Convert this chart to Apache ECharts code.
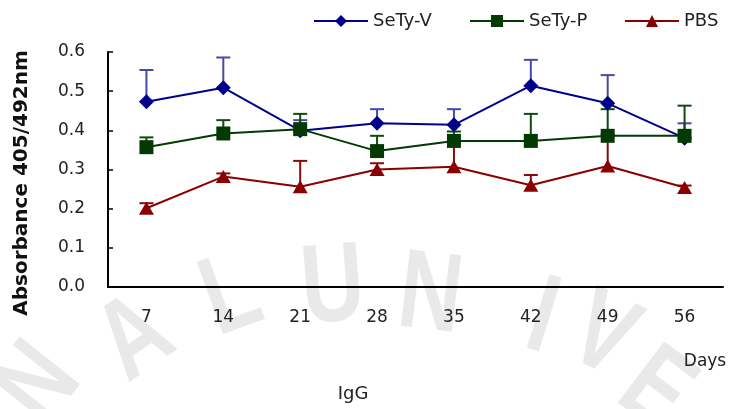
<!DOCTYPE html>
<html>
<head>
<meta charset="utf-8">
<script src="https://cdn.jsdelivr.net/npm/echarts@6/dist/echarts.min.js"></script>
<style>html,body{margin:0;padding:0;background:#fff;}#chart{width:734px;height:409px;}</style>
</head>
<body>
<div id="chart"></div>
<script>
var categories = ['7', '14', '21', '28', '35', '42', '49', '56'];
var seriesNames = ['SeTy-V', 'SeTy-P', 'PBS'];
var setyV = [0.473, 0.509, 0.399, 0.418, 0.414, 0.514, 0.469, 0.380];
var setyVErr = [0.081, 0.077, 0.027, 0.036, 0.040, 0.066, 0.072, 0.038];
var setyP = [0.357, 0.392, 0.403, 0.347, 0.373, 0.373, 0.386, 0.386];
var setyPErr = [0.025, 0.034, 0.039, 0.039, 0.024, 0.069, 0.068, 0.077];
var pbs = [0.201, 0.282, 0.256, 0.300, 0.307, 0.260, 0.309, 0.254];
var pbsErr = [0.013, 0.008, 0.066, 0.016, 0.068, 0.026, 0.081, 0.005];
var yTicks = [0, 0.1, 0.2, 0.3, 0.4, 0.5, 0.6];
var watermarkLetters = ['N', 'A', 'L', 'U', 'N', 'I', 'V', 'E'];

var FONT = 'DejaVu Sans';
var colors = ['#00008a', '#033a03', '#8a0000'];
var errColors = ['#4848a8', '#0f4a0f', '#8a0a0a'];

// watermark placement (background decoration): x, y, rotation
var wmPos = [[40, 385, 0.9], [136, 340, 0.6], [232, 298, 0.35], [333, 290, 0.08], [430, 298, -0.12], [542, 320, -0.3], [602, 338, -0.45], [655, 392, -0.65]];

function errSeries(vals, errs, color) {
  var data = vals.map(function (v, i) { return [i, v, v + errs[i]]; });
  return {
    type: 'custom',
    z: 3,
    silent: true,
    data: data,
    renderItem: function (params, api) {
      var p0 = api.coord([api.value(0), api.value(1)]);
      var p1 = api.coord([api.value(0), api.value(2)]);
      var hw = 7;
      return {
        type: 'group',
        children: [
          { type: 'line', shape: { x1: p0[0], y1: p0[1], x2: p1[0], y2: p1[1] }, style: { stroke: color, lineWidth: 2 } },
          { type: 'line', shape: { x1: p1[0] - hw, y1: p1[1], x2: p1[0] + hw, y2: p1[1] }, style: { stroke: color, lineWidth: 2 } }
        ]
      };
    }
  };
}

function legendAt(name, left) {
  return {
    data: [name], left: left, top: 12, itemWidth: 54, itemHeight: 15, itemGap: 14,
    textStyle: { fontFamily: FONT, fontSize: 18, color: '#222' }, padding: 0
  };
}

var graphics = watermarkLetters.map(function (ch, i) {
  return {
    type: 'text', z: -10, silent: true, x: wmPos[i][0], y: wmPos[i][1], rotation: wmPos[i][2], scaleX: 0.78,
    style: { text: ch, fontFamily: 'Liberation Sans', fontWeight: 'bold', fontSize: 112, fill: 'rgba(0,0,0,0.085)', align: 'center', verticalAlign: 'middle', shadowBlur: 10, shadowColor: 'rgba(0,0,0,0.09)' }
  };
});
graphics.push(
  { type: 'text', x: 22, y: 183, rotation: Math.PI / 2, style: { text: 'Absorbance 405/492nm', fontFamily: FONT, fontWeight: 'bold', fontSize: 20, fill: '#111', align: 'center', verticalAlign: 'middle' } },
  { type: 'text', x: 705, y: 362, style: { text: 'Days', fontFamily: FONT, fontSize: 17, fill: '#222', align: 'center', verticalAlign: 'middle' } },
  { type: 'text', x: 353, y: 394, style: { text: 'IgG', fontFamily: FONT, fontSize: 18, fill: '#222', align: 'center', verticalAlign: 'middle' } }
);

var chart = echarts.init(document.getElementById('chart'), null, { renderer: 'canvas' });
chart.setOption({
  animation: false,
  backgroundColor: '#ffffff',
  legend: [legendAt(seriesNames[0], 313), legendAt(seriesNames[1], 469), legendAt(seriesNames[2], 624)],
  grid: { left: 108, right: 11, top: 52, bottom: 122 },
  xAxis: {
    type: 'category',
    data: categories,
    boundaryGap: true,
    axisLine: { lineStyle: { color: '#000', width: 2 } },
    axisTick: { inside: true, length: 5, lineStyle: { color: '#000', width: 1.5 } },
    axisLabel: { margin: 22, fontFamily: FONT, fontSize: 17, color: '#222' }
  },
  yAxis: {
    type: 'value',
    min: yTicks[0],
    max: yTicks[yTicks.length - 1],
    interval: 0.1,
    splitLine: { show: false },
    axisLine: { show: true, lineStyle: { color: '#000', width: 2 } },
    axisTick: { show: true, inside: true, length: 5, lineStyle: { color: '#000', width: 1.5 } },
    axisLabel: { margin: 23, fontFamily: FONT, fontSize: 17, color: '#222', formatter: function (v) { return v.toFixed(1); } }
  },
  graphic: graphics,
  series: [
    errSeries(setyV, setyVErr, errColors[0]),
    errSeries(setyP, setyPErr, errColors[1]),
    errSeries(pbs, pbsErr, errColors[2]),
    { name: seriesNames[0], type: 'line', z: 4, data: setyV, symbol: 'diamond', symbolSize: 15, color: colors[0], lineStyle: { width: 2 }, itemStyle: { color: colors[0] } },
    { name: seriesNames[1], type: 'line', z: 4, data: setyP, symbol: 'rect', symbolSize: 14, color: colors[1], lineStyle: { width: 2 }, itemStyle: { color: colors[1] } },
    { name: seriesNames[2], type: 'line', z: 4, data: pbs, symbol: 'triangle', symbolSize: [15, 13], color: colors[2], lineStyle: { width: 2 }, itemStyle: { color: colors[2] } }
  ]
});
</script>
</body>
</html>
